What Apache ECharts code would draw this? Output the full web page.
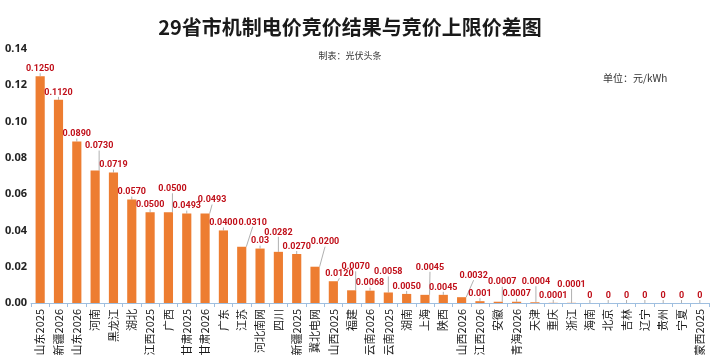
<!DOCTYPE html>
<html>
<head>
<meta charset="utf-8">
<script src="https://cdn.jsdelivr.net/npm/echarts@6/dist/echarts.min.js"></script>
<style>
html,body{margin:0;padding:0;background:#fff;}
#chart{width:719px;height:362px;}
</style>
</head>
<body>
<div id="chart"></div>
<script>
const categories = ['山东2025','新疆2026','山东2026','河南','黑龙江','湖北','江西2025','广西','甘肃2025','甘肃2026','广东','江苏','河北南网','四川','新疆2025','冀北电网','山西2025','福建','云南2026','云南2025','湖南','上海','陕西','山西2026','江西2026','安徽','青海2026','天津','重庆','浙江','海南','北京','吉林','辽宁','贵州','宁夏','蒙西2025'];
const values = [0.1250,0.1120,0.0890,0.0730,0.0719,0.0570,0.0500,0.0500,0.0493,0.0493,0.0400,0.0310,0.03,0.0282,0.0270,0.0200,0.0120,0.0070,0.0068,0.0058,0.0050,0.0045,0.0045,0.0032,0.001,0.0007,0.0007,0.0004,0.0001,0.0001,0,0,0,0,0,0,0];
const valueLabels = ['0.1250','0.1120','0.0890','0.0730','0.0719','0.0570','0.0500','0.0500','0.0493','0.0493','0.0400','0.0310','0.03','0.0282','0.0270','0.0200','0.0120','0.0070','0.0068','0.0058','0.0050','0.0045','0.0045','0.0032','0.001','0.0007','0.0007','0.0004','0.0001','0.0001','0','0','0','0','0','0','0'];
const yTicks = [0, 0.02, 0.04, 0.06, 0.08, 0.10, 0.12, 0.14];

// label shifts (layout only): index -> [dx, dy up]
const labelShift = {3:[4,17],7:[4,16],9:[7,6],11:[11,17],13:[0,12],15:[10,17],16:[6,0],17:[4,16],19:[0,13],21:[5,20],23:[12,14],25:[4,12],27:[1,13],29:[0,11]};

const chart = echarts.init(document.getElementById('chart'), null, {renderer:'canvas'});
const FONT = '"Noto Sans", "Noto Sans CJK SC", sans-serif';
chart.setOption({
  animation: false,
  backgroundColor: '#fff',
  textStyle: {fontFamily: FONT},
  title: [
    {text: '29省市机制电价竞价结果与竞价上限价差图', left: 345, top: 12, textAlign: 'center',
     textStyle: {fontSize: 20, fontWeight: 'bold', color: '#1a1a1a', fontFamily: '"Noto Sans CJK SC", sans-serif'}},
    {text: '制表：光伏头条', left: 345, top: 46, textAlign: 'center',
     textStyle: {fontSize: 9, fontWeight: 'normal', color: '#333', fontFamily: '"Noto Sans CJK SC", sans-serif'}},
    {text: '单位：元/kWh', left: 598, top: 68,
     textStyle: {fontSize: 10, fontWeight: 'normal', color: '#333', fontFamily: '"Noto Sans CJK SC", sans-serif'}}
  ],
  grid: {left: 31, right: 10, top: 49, bottom: 59, containLabel: false},
  xAxis: {
    type: 'category',
    data: categories,
    axisLine: {show: true, lineStyle: {color: '#9fbfe0', width: 1}},
    axisTick: {show: true, length: 4, lineStyle: {color: '#9fbfe0'}},
    axisLabel: {rotate: 90, interval: 0, fontSize: 11, color: '#1a1a1a', margin: 6,
                fontFamily: '"Noto Sans CJK SC", sans-serif'}
  },
  yAxis: {
    type: 'value',
    min: yTicks[0], max: yTicks[yTicks.length-1], interval: 0.02,
    axisLine: {show: false},
    axisTick: {show: false},
    splitLine: {show: false},
    axisLabel: {fontSize: 11, fontWeight: 'bold', color: '#222', align: 'left', margin: 26,
                formatter: v => v.toFixed(2)}
  },
  series: [{
    type: 'bar',
    data: values,
    barWidth: '50%',
    itemStyle: {color: '#ed7d31'},
    label: {
      show: true, position: 'top', distance: 3,
      fontSize: 9, fontWeight: 'bold', color: '#c0101a',
      fontFamily: 'Roboto, "Noto Sans", sans-serif',
      formatter: p => valueLabels[p.dataIndex]
    },
    labelLine: {show: true, lineStyle: {color: '#b0b0b0', width: 1}},
    labelLayout: function (params) {
      const s = labelShift[params.dataIndex];
      if (!s) return {};
      return {dx: s[0], dy: -s[1]};
    }
  }]
});
</script>
</body>
</html>
